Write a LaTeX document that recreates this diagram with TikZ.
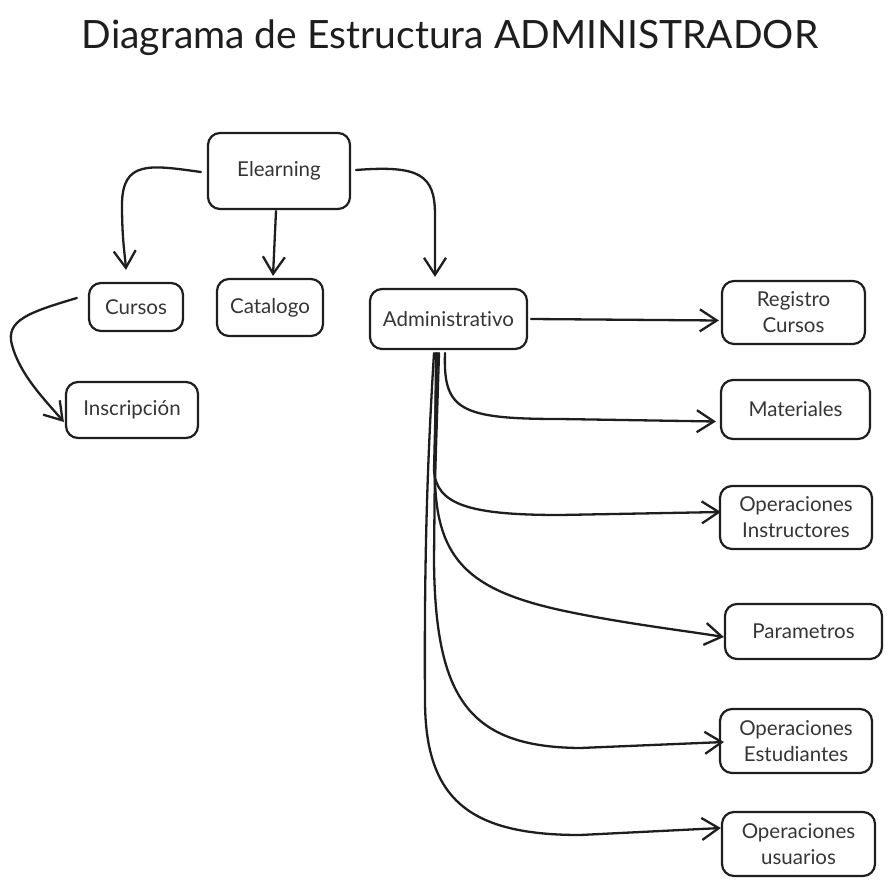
\documentclass[tikz,border=0pt]{standalone}
\usepackage{fontspec}
\setmainfont{Lato}[Ligatures=NoCommon]
\usetikzlibrary{arrows.meta}
\definecolor{ink}{HTML}{1E1E1E}
\begin{document}
\begin{tikzpicture}[x=1pt,y=-1pt,
  box/.style={draw=ink, line width=2.2pt, rounded corners=12pt, text=ink!90,
    font=\fontsize{20.5}{26}\selectfont, align=center, inner sep=0pt},
  conn/.style={draw=ink, line width=2.3pt, line cap=round,
    -{Straight Barb[length=17pt,width=22pt]}}]
\useasboundingbox (0,0) rectangle (893,885);
\node[text=ink, font=\fontsize{39}{42}\selectfont] (title) at (450,38) {Diagrama de Estructura ADMINISTRADOR};

\node[box, minimum width=142, minimum height=76] (el) at (279,171) {Elearning};
\node[box, minimum width=94, minimum height=48] (cu) at (136,307) {Cursos};
\node[box, minimum width=106, minimum height=57] (ca) at (270,307.5) {Catalogo};
\node[box, minimum width=132, minimum height=56] (in) at (132,410) {Inscripción};
\node[box, minimum width=157, minimum height=60] (ad) at (448.5,319) {Administrativo};
\node[box, minimum width=143, minimum height=63] (rc) at (793.5,312.5) {Registro\\Cursos};
\node[box, minimum width=149, minimum height=59] (ma) at (795.5,409.5) {Materiales};
\node[box, minimum width=152, minimum height=63] (oi) at (796,517.5) {Operaciones\\Instructores};
\node[box, minimum width=157, minimum height=55] (pa) at (803.5,631.5) {Parametros};
\node[box, minimum width=152, minimum height=64] (oe) at (796,741) {Operaciones\\Estudiantes};
\node[box, minimum width=153, minimum height=64] (ou) at (798.5,844) {Operaciones\\usuarios};

% Elearning -> children
\draw[conn] ([xshift=-6pt,yshift=-1pt]el.west) .. controls (150,165) and (122,160) .. (122,205)
  .. controls (122,240) and (125,255) .. ([xshift=-10pt,yshift=12pt]cu.north);
\draw[conn] ([xshift=-3pt,yshift=-1pt]el.south) -- ([xshift=3pt,yshift=2pt]ca.north);
\draw[conn] ([xshift=5pt,yshift=1pt]el.east) .. controls (420,165) and (435,175) .. (435,215)
  -- ([xshift=-13.5pt,yshift=11pt]ad.north);

% Cursos -> Inscripcion
\draw[conn] ([xshift=-11pt,yshift=9pt]cu.west) .. controls (30,312) and (5,320) .. (12,345)
  .. controls (20,375) and (45,400) .. ([xshift=-1pt,yshift=-12pt]in.west);

% Administrativo -> children
\draw[conn] ([xshift=3pt]ad.east) -- ([xshift=-2pt,yshift=-8pt]rc.west);
\draw[conn] ([xshift=-3.5pt,yshift=-3pt]ad.south) .. controls (443,410) and (460,419) .. (560,419)
  -- ([xshift=-4pt,yshift=-12pt]ma.west);
\draw[conn] ([xshift=-11.5pt,yshift=-3pt]ad.south) -- (434,470) .. controls (436,505) and (470,515) .. (560,515)
  -- ([xshift=2pt,yshift=5.5pt]oi.west);
\draw[conn] ([xshift=-9.5pt,yshift=-3pt]ad.south) -- (435,480) .. controls (437,560) and (470,590) .. (560,610)
  .. controls (620,623) and (680,630) .. ([yshift=-5.5pt]pa.west);
\draw[conn] ([xshift=-12.5pt,yshift=-3pt]ad.south) -- (434,560) .. controls (435,700) and (470,747) .. (580,748)
  -- ([xshift=5pt,yshift=-1pt]oe.west);
\draw[conn] ([xshift=-14.5pt,yshift=-3pt]ad.south) .. controls (428,450) and (424,550) .. (425,700)
  .. controls (425,800) and (470,835) .. (580,835) -- ([yshift=16pt]ou.west);
\end{tikzpicture}
\end{document}
